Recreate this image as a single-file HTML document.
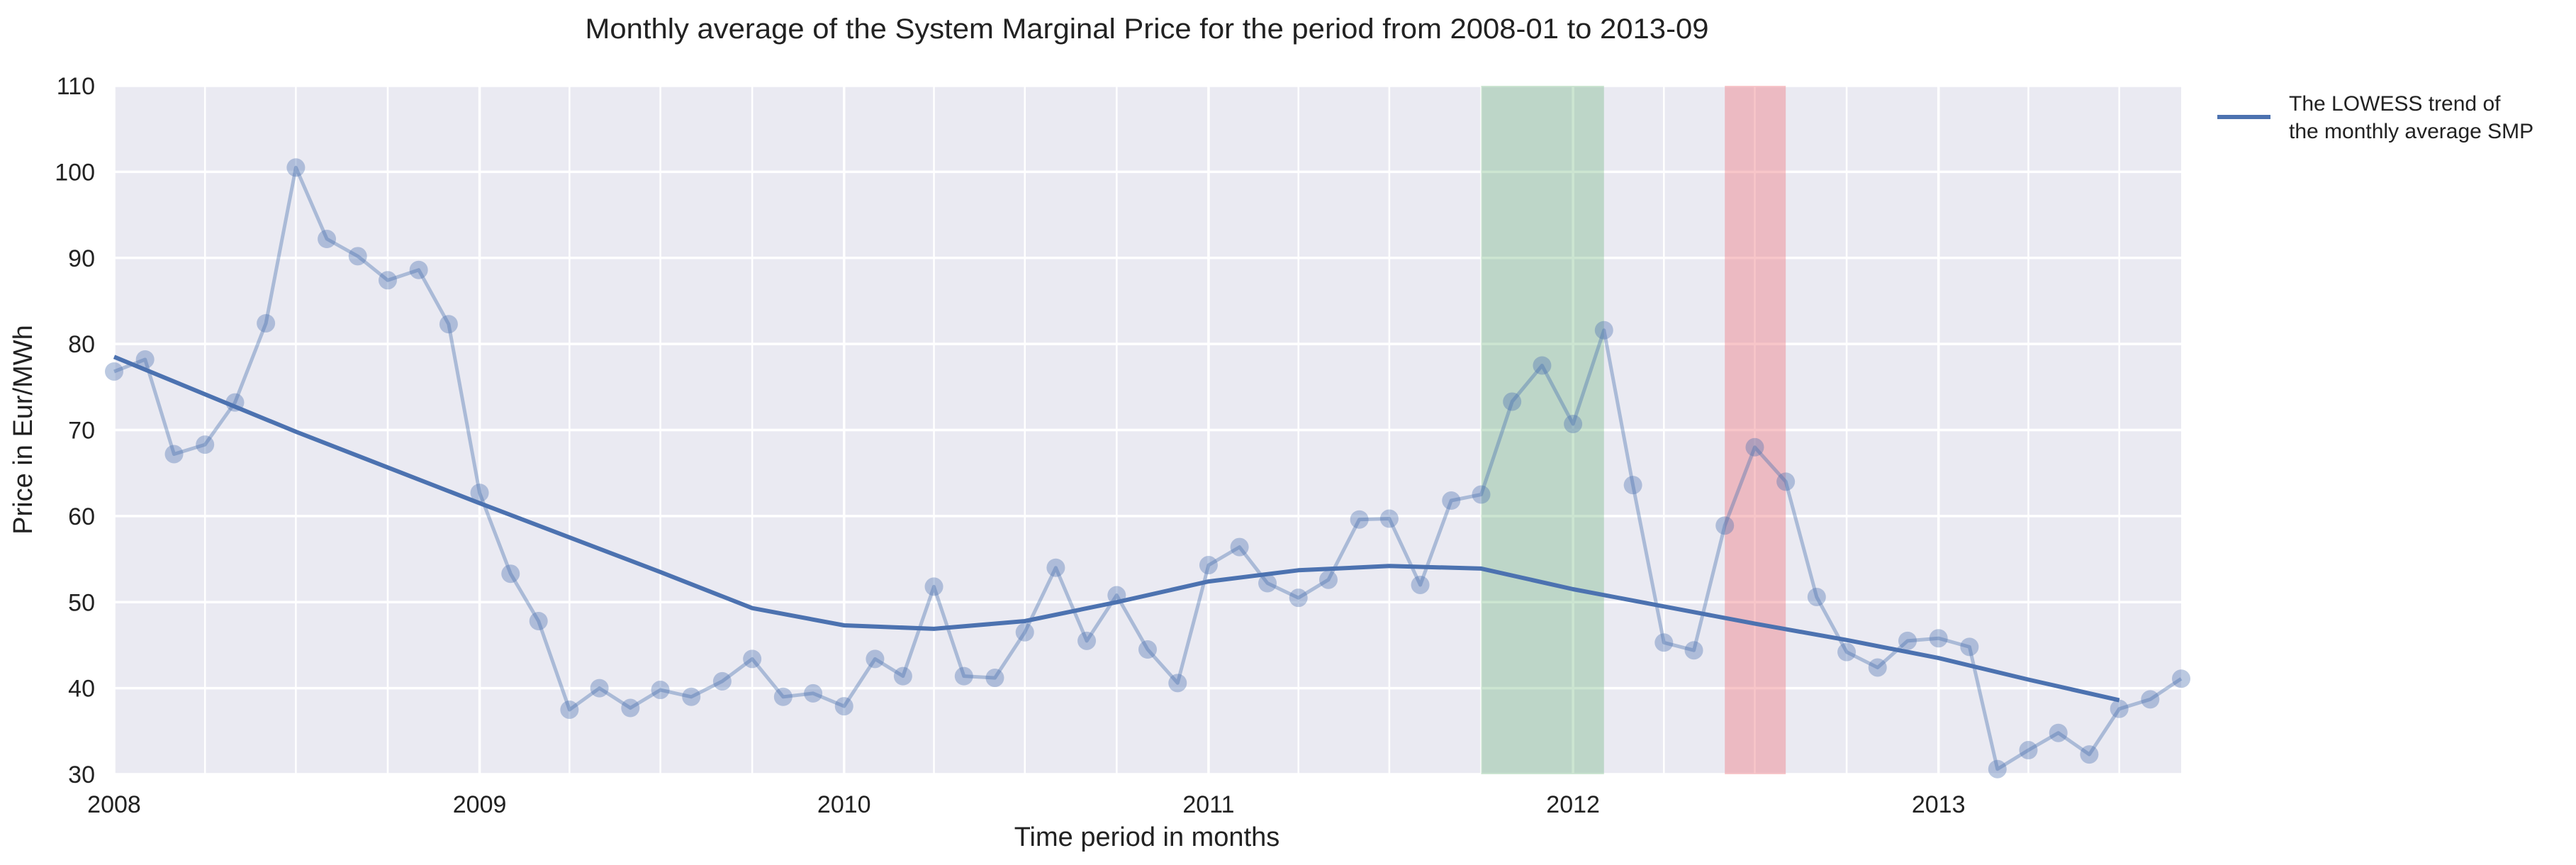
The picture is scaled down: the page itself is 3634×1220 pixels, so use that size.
<!DOCTYPE html>
<html><head><meta charset="utf-8"><style>
html,body{margin:0;padding:0;background:#fff;}
svg{display:block;font-family:"Liberation Sans",Arial,sans-serif;}
</style></head><body>
<svg id="chart" width="3634" height="1220" viewBox="0 0 3634 1220" xmlns="http://www.w3.org/2000/svg">
<text x="1618" y="54" font-size="40" textLength="1585" lengthAdjust="spacingAndGlyphs" text-anchor="middle" fill="#222">Monthly average of the System Marginal Price for the period from 2008-01 to 2013-09</text>
<rect x="161" y="121" width="2916" height="971" fill="#EAEAF2"/>
<g id="grid"></g><g id="spans"></g><g id="series"></g><g id="trend"></g><g id="ticks"></g>
<text x="1618" y="1193" font-size="38" text-anchor="middle" fill="#222">Time period in months</text>
<text transform="translate(45,606) rotate(-90)" font-size="38" text-anchor="middle" fill="#222">Price in Eur/MWh</text>
<g>
<line x1="3128" y1="165" x2="3203" y2="165" stroke="#4C72B0" stroke-width="6"/>
<text x="3229" y="156" font-size="30" fill="#222">The LOWESS trend of</text>
<text x="3229" y="195" font-size="30" fill="#222">the monthly average SMP</text>
</g>
</svg>
<script>
const monthlyValues = [
76.8,78.2,67.2,68.3,73.2,82.4,100.5,92.2,90.2,87.4,88.6,82.3,
62.7,53.3,47.8,37.5,40.0,37.7,39.8,39.0,40.8,43.4,39.0,39.4,
37.9,43.4,41.4,51.8,41.4,41.2,46.5,54.0,45.5,50.8,44.5,40.6,
54.3,56.4,52.2,50.5,52.6,59.6,59.7,52.0,61.8,62.5,73.3,77.5,
70.7,81.6,63.6,45.3,44.4,58.9,68.0,64.0,50.6,44.2,42.4,45.5,
45.8,44.8,30.6,32.8,34.8,32.3,37.6,38.7,41.1];
const trendMonthIndex = [0,6,12,18,21,24,27,30,33,36,39,42,45,48,51,54,57,60,63,66];
const trendValues = [78.5,69.8,61.5,53.5,49.3,47.3,46.9,47.8,50.0,52.4,53.7,54.2,53.9,51.5,49.5,47.5,45.6,43.5,41.0,38.6];
const yTicks = [30,40,50,60,70,80,90,100,110];
const xTickYears = [2008,2009,2010,2011,2012,2013];
const greenSpan = ["2011-10-01","2012-02-01"];
const redSpan = ["2012-06-01","2012-08-01"];
const NS="http://www.w3.org/2000/svg";
const X0=161,X1=3077,Y0=121,Y1=1092;
const t0=Date.UTC(2008,0,1), t1=Date.UTC(2013,8,1);
function xDate(ms){return X0+(ms-t0)/(t1-t0)*(X1-X0);}
function xMonth(i){return xDate(Date.UTC(2008+Math.floor(i/12),i%12,1));}
function y(v){return Y1-(v-30)/80*(Y1-Y0);}
function mk(tag,attrs,parent){const e=document.createElementNS(NS,tag);for(const k in attrs)e.setAttribute(k,attrs[k]);document.getElementById(parent).appendChild(e);return e;}
for(const v of yTicks){
  const l=mk('line',{x1:X0,x2:X1,y1:y(v),y2:y(v),stroke:'#fff','stroke-width':3.5},'grid');
  
  
  const t=mk('text',{x:134,y:y(v)+12,'font-size':34,'text-anchor':'end',fill:'#222'},'ticks');
  t.textContent=v;
  
  
}
for(let m=0;m<=68;m+=3){
  const x=xMonth(m);
  const l=mk('line',{x1:x,x2:x,y1:Y0,y2:Y1,stroke:'#fff','stroke-width':m%12===0?3.5:2.5},'grid');
  
  
}
for(const yr of xTickYears){
  const t=mk('text',{x:xDate(Date.UTC(yr,0,1)),y:1146,'font-size':34,'text-anchor':'middle',fill:'#222'},'ticks');
  t.textContent=yr;
  
  
}
function span(s,col,op,name){
  const a=xDate(Date.parse(s[0])),b=xDate(Date.parse(s[1]));
  const r=mk('rect',{x:a,y:Y0,width:b-a,height:Y1-Y0,fill:col,'fill-opacity':op},'spans');
  
  
}
span(greenSpan,'#55A868',0.3,'green-highlight-span');
span(redSpan,'#F08088',0.45,'red-highlight-span');
const pts=monthlyValues.map((v,i)=>xMonth(i).toFixed(1)+','+y(v).toFixed(1)).join(' ');
const pl=mk('polyline',{points:pts,fill:'none',stroke:'#4C72B0','stroke-opacity':0.4,'stroke-width':5,'stroke-linejoin':'round'},'series');


monthlyValues.forEach((v,i)=>{
  const c=mk('circle',{cx:xMonth(i),cy:y(v),r:13,fill:'#4C72B0','fill-opacity':0.38},'series');
  
  
});
const tp=trendValues.map((v,i)=>xMonth(trendMonthIndex[i]).toFixed(1)+','+y(v).toFixed(1)).join(' ');
const tl=mk('polyline',{points:tp,fill:'none',stroke:'#4C72B0','stroke-width':6,'stroke-linejoin':'round'},'trend');


</script>
</body></html>
